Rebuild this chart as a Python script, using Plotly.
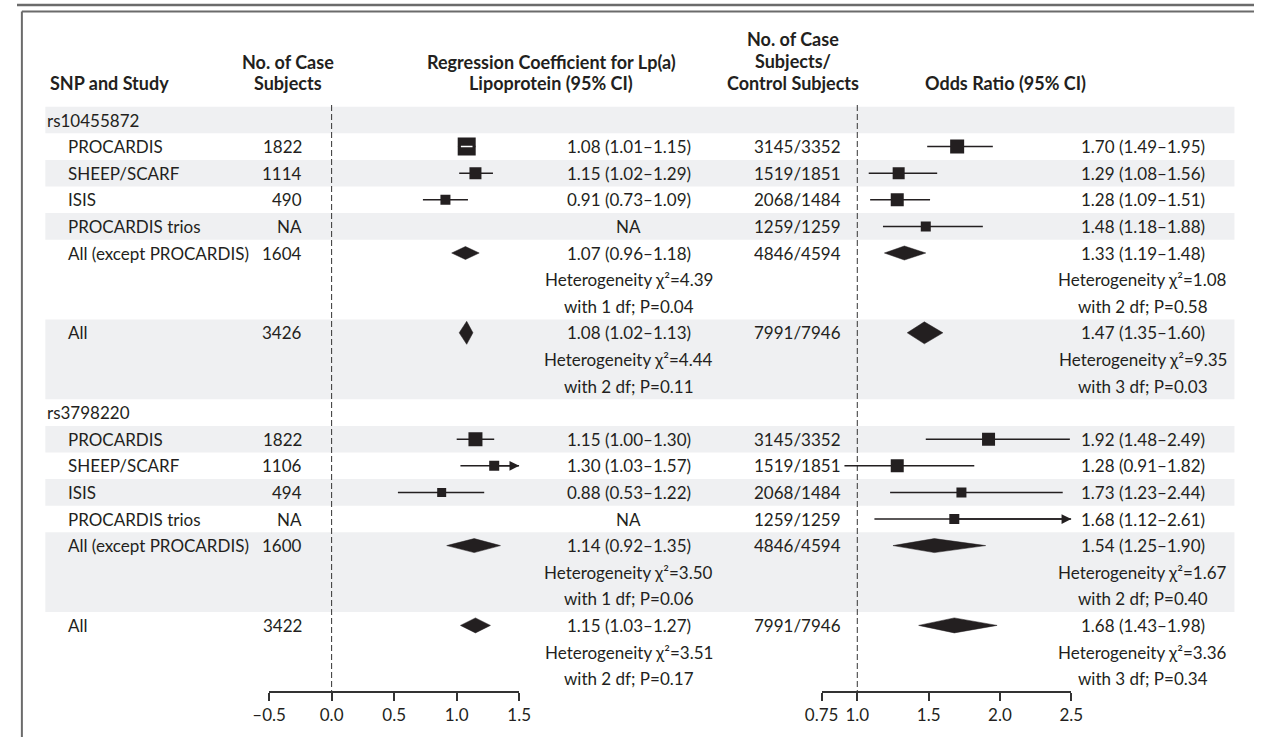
import plotly.graph_objects as go

# ---------------- data ----------------
snp_names = ["rs10455872", "rs3798220"]
studies = ["PROCARDIS", "SHEEP/SCARF", "ISIS", "PROCARDIS trios",
           "All (except PROCARDIS)", "All"]

cases_1 = ["1822", "1114", "490", "NA", "1604", "3426"]
reg_est_1 = [1.08, 1.15, 0.91, None, 1.07, 1.08]
reg_lo_1 = [1.01, 1.02, 0.73, None, 0.96, 1.02]
reg_hi_1 = [1.15, 1.29, 1.09, None, 1.18, 1.13]
cc_1 = ["3145/3352", "1519/1851", "2068/1484", "1259/1259", "4846/4594", "7991/7946"]
or_est_1 = [1.70, 1.29, 1.28, 1.48, 1.33, 1.47]
or_lo_1 = [1.49, 1.08, 1.09, 1.18, 1.19, 1.35]
or_hi_1 = [1.95, 1.56, 1.51, 1.88, 1.48, 1.60]
reg_het_1 = [("4.39", "1", "0.04"), ("4.44", "2", "0.11")]
or_het_1 = [("1.08", "2", "0.58"), ("9.35", "3", "0.03")]

cases_2 = ["1822", "1106", "494", "NA", "1600", "3422"]
reg_est_2 = [1.15, 1.30, 0.88, None, 1.14, 1.15]
reg_lo_2 = [1.00, 1.03, 0.53, None, 0.92, 1.03]
reg_hi_2 = [1.30, 1.57, 1.22, None, 1.35, 1.27]
cc_2 = ["3145/3352", "1519/1851", "2068/1484", "1259/1259", "4846/4594", "7991/7946"]
or_est_2 = [1.92, 1.28, 1.73, 1.68, 1.54, 1.68]
or_lo_2 = [1.48, 0.91, 1.23, 1.12, 1.25, 1.43]
or_hi_2 = [2.49, 1.82, 2.44, 2.61, 1.90, 1.98]
reg_het_2 = [("3.50", "1", "0.06"), ("3.51", "2", "0.17")]
or_het_2 = [("1.67", "2", "0.40"), ("3.36", "3", "0.34")]

reg_ticks = [-0.5, 0.0, 0.5, 1.0, 1.5]
reg_ticktext = ["\u20130.5", "0.0", "0.5", "1.0", "1.5"]
or_ticks = [0.75, 1.0, 1.5, 2.0, 2.5]
or_ticktext = ["0.75", "1.0", "1.5", "2.0", "2.5"]

# ---------------- styles ----------------
reg_sq_sizes = [[18, 12, 10, 0], [14, 10, 9, 0]]
or_sq_sizes = [[14, 12, 13, 10], [13, 13, 10, 10]]
reg_dia_h = [[6.5, 11.5], [7, 7.5]]   # half height, px
or_dia_h = [[7, 11], [7, 7.5]]

W, H = 1266, 737
RH = 26.6
Y0 = 120
AX_PIX = 691
INK = "#231f20"
FONT = "Lato"
FS = 17
HFS = 18
SHADE = "#eff0f2"

REG_DOM = (258 / W, 514 / W)
OR_DOM = (823.5 / W, 1079 / W)
REG_RANGE = (-0.5, 1.5)
OR_RANGE = (0.75, 2.5)
REG_PPU = 256 / 2.0
OR_PPU = (1079 - 823.5) / 1.75


def prow(pix):
    return (pix - Y0) / RH


blocks = [
    dict(cases=cases_1, re=reg_est_1, rl=reg_lo_1, rh=reg_hi_1, cc=cc_1,
         oe=or_est_1, ol=or_lo_1, oh=or_hi_1, rhet=reg_het_1, ohet=or_het_1),
    dict(cases=cases_2, re=reg_est_2, rl=reg_lo_2, rh=reg_hi_2, cc=cc_2,
         oe=or_est_2, ol=or_lo_2, oh=or_hi_2, rhet=reg_het_2, ohet=or_het_2),
]

fig = go.Figure()
ann = []
shapes = []


def txt(xpix, row, s, anchor="left", bold=False):
    ann.append(dict(x=xpix / W, xref="paper", y=row, yref="y", text=s,
                    showarrow=False, xanchor=anchor, yanchor="middle",
                    font=dict(family=FONT, size=HFS if bold else FS, color=INK,
                              weight="bold" if bold else "normal")))


def het_text(chi, df, p):
    return (f"Heterogeneity \u03c7\u00b2={chi}", f"with {df} df; P={p}")


# study-row offsets within block
row_off = [1, 2, 3, 4, 5, 8]
entry_rows = [[0], [1], [2], [3], [4], [5, 6, 7], [8, 9, 10]]

for b, blk in enumerate(blocks):
    r0 = b * 11
    # shading
    for e, rows in enumerate(entry_rows):
        if (b * 7 + e) % 2 == 0:
            shapes.append(dict(type="rect", xref="paper", yref="y",
                               x0=29 / W, x1=1246 / W,
                               y0=r0 + rows[0] - 0.5, y1=r0 + rows[-1] + 0.5,
                               fillcolor=SHADE, line=dict(width=0), layer="below"))
    txt(29, r0, snp_names[b])
    for i, st in enumerate(studies):
        r = r0 + row_off[i]
        txt(50, r, st)
        txt(294, r, blk["cases"][i], anchor="right")
        txt(752, r, blk["cc"][i], anchor="left")
        # regression column
        e, lo, hi = blk["re"][i], blk["rl"][i], blk["rh"][i]
        if e is None:
            txt(626, r, "NA", anchor="center")
        else:
            txt(626, r, f"{e:.2f} ({lo:.2f}\u2013{hi:.2f})", anchor="center")
        # OR column
        oe, ol, oh = blk["oe"][i], blk["ol"][i], blk["oh"][i]
        txt(1152, r, f"{oe:.2f} ({ol:.2f}\u2013{oh:.2f})", anchor="center")

        for (xa, est, l, h, rng, ppu, sizes, dia) in [
            ("x", e, lo, hi, REG_RANGE, REG_PPU, reg_sq_sizes[b], reg_dia_h[b]),
            ("x2", oe, ol, oh, OR_RANGE, OR_PPU, or_sq_sizes[b], or_dia_h[b]),
        ]:
            if est is None:
                continue
            if i < 4:
                hh = min(h, rng[1])
                fig.add_trace(go.Scatter(x=[l, hh], y=[r, r], mode="lines", xaxis=xa, yaxis="y",
                                         line=dict(color=INK, width=1.5), hoverinfo="skip",
                                         showlegend=False))
                if h > rng[1]:
                    ann.append(dict(x=rng[1], y=r, xref=xa, yref="y", ax=est, ay=r,
                                    axref=xa, ayref="y", text="", showarrow=True,
                                    arrowhead=2, arrowsize=1.3, arrowwidth=1.5,
                                    arrowcolor=INK))
                fig.add_trace(go.Scatter(x=[est], y=[r], mode="markers", xaxis=xa, yaxis="y",
                                         marker=dict(symbol="square", size=sizes[i], color=INK,
                                                     line=dict(width=0)),
                                         hoverinfo="skip", showlegend=False))
                if (h - l) * ppu <= sizes[i]:
                    half = 0.33 * sizes[i] / ppu
                    fig.add_trace(go.Scatter(x=[est - half, est + half], y=[r, r], mode="lines",
                                             xaxis=xa, yaxis="y",
                                             line=dict(color="white", width=1.5),
                                             hoverinfo="skip", showlegend=False))
            else:
                dh = dia[i - 4] / RH
                fig.add_trace(go.Scatter(x=[l, est, h, est, l], y=[r, r - dh, r, r + dh, r],
                                         mode="lines", fill="toself", fillcolor=INK,
                                         line=dict(color=INK, width=0.5), xaxis=xa, yaxis="y",
                                         hoverinfo="skip", showlegend=False))
    # heterogeneity text
    for k, base in enumerate([5, 8]):
        a1, a2 = het_text(*blk["rhet"][k])
        txt(626, r0 + base + 1, a1, anchor="center")
        txt(626, r0 + base + 2, a2, anchor="center")
        b1, b2 = het_text(*blk["ohet"][k])
        txt(1152, r0 + base + 1, b1, anchor="center")
        txt(1152, r0 + base + 2, b2, anchor="center")

# headers
txt(32, prow(83), "SNP and Study", bold=True)
txt(277, prow(62), "No. of Case", anchor="center", bold=True)
txt(277, prow(83), "Subjects", anchor="center", bold=True)
txt(547, prow(62), "Regression Coefficient for Lp(a)", anchor="center", bold=True)
txt(547, prow(83), "Lipoprotein (95% CI)", anchor="center", bold=True)
txt(794, prow(39), "No. of Case", anchor="center", bold=True)
txt(794, prow(61), "Subjects/", anchor="center", bold=True)
txt(794, prow(83), "Control Subjects", anchor="center", bold=True)
txt(1012, prow(83), "Odds Ratio (95% CI)", anchor="center", bold=True)

# reference lines (dashed)
for xr, xv in [("x", 0.0), ("x2", 1.0)]:
    shapes.append(dict(type="line", xref=xr, yref="y", x0=xv, x1=xv,
                       y0=prow(105), y1=prow(AX_PIX),
                       line=dict(color="#333333", width=1, dash="6px,3px"), layer="below"))

# frame lines
FR = "#6b6b6b"
shapes.append(dict(type="line", xref="paper", yref="paper", x0=0, x1=1,
                   y0=1 - 5 / H, y1=1 - 5 / H, line=dict(color=FR, width=2.5)))
shapes.append(dict(type="line", xref="paper", yref="paper", x0=5 / W, x1=1,
                   y0=1 - 11.5 / H, y1=1 - 11.5 / H, line=dict(color=FR, width=2)))
shapes.append(dict(type="line", xref="paper", yref="paper", x0=5 / W, x1=5 / W,
                   y0=0, y1=1 - 11.5 / H, line=dict(color=FR, width=2)))

axis_common = dict(showgrid=False, zeroline=False, showline=True, linecolor="#333333",
                   linewidth=1.5, ticks="outside", ticklen=8, tickwidth=1.5,
                   tickcolor="#333333", anchor="y", fixedrange=True,
                   tickfont=dict(family=FONT, size=FS, color=INK))

fig.update_layout(
    width=W, height=H, autosize=False,
    margin=dict(l=0, r=0, t=0, b=0),
    paper_bgcolor="white", plot_bgcolor="rgba(0,0,0,0)",
    showlegend=False,
    xaxis=dict(domain=list(REG_DOM), range=list(REG_RANGE), tickmode="array",
               tickvals=reg_ticks, ticktext=reg_ticktext, **axis_common),
    xaxis2=dict(domain=list(OR_DOM), range=list(OR_RANGE), tickmode="array",
                tickvals=or_ticks, ticktext=or_ticktext, **axis_common),
    yaxis=dict(domain=[1 - AX_PIX / H, 1], range=[prow(AX_PIX), prow(0)],
               visible=False, fixedrange=True),
    annotations=ann,
    shapes=shapes,
)

fig.write_html("out.html", config={"responsive": False, "displayModeBar": False},
               post_script="document.body.style.margin='0';document.body.style.overflow='hidden';")
